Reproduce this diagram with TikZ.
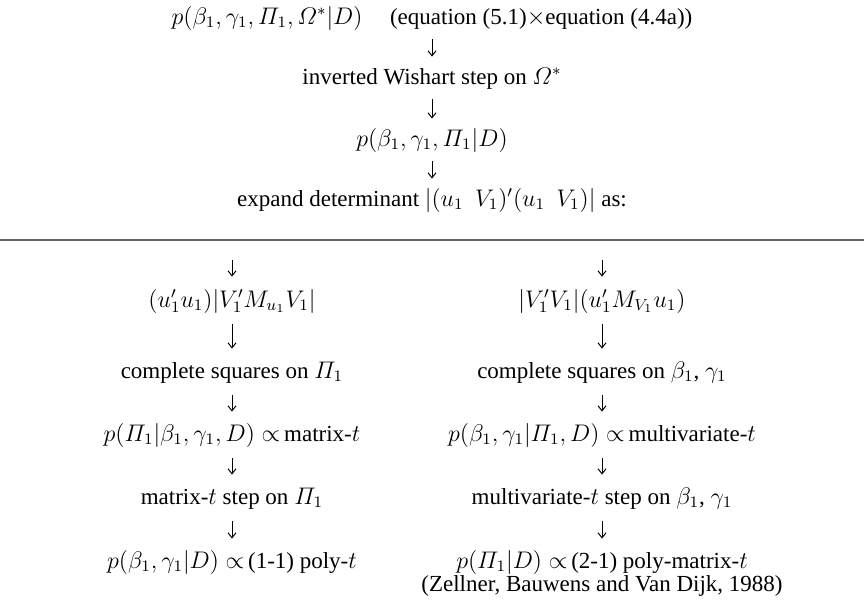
\documentclass[tikz,border=0pt]{standalone}
\usepackage{amsmath}
\usepackage{fontspec}
\setmainfont{Liberation Serif}
\usetikzlibrary{arrows.meta}
\begin{document}
\begin{tikzpicture}[x=0.5pt,y=-0.5pt,
  txt/.style={inner sep=0pt,text height=9pt,text depth=3pt,font=\fontsize{11.5}{14}\selectfont},
  arr/.style={-{Straight Barb[length=2.5pt,width=4pt]},line width=0.5pt,shorten <=4.5pt,shorten >=4.5pt},
  arrl/.style={arr,shorten <=5.5pt,shorten >=5.5pt},
  rule/.style={line width=0.8pt,draw=black!60}]
\useasboundingbox (0,0) rectangle (864,600);
% top column
\node[txt] (t1) at (432,18) {$p(\beta_1,\gamma_1,\varPi_1,\varOmega^*|D)$\hspace{1.2em}(equation (5.1)$\times$equation (4.4a))};
\node[txt] (t2) at (432,78) {inverted Wishart step on $\varOmega^*$};
\node[txt] (t3) at (432,140) {$p(\beta_1,\gamma_1,\varPi_1|D)$};
\node[txt] (t4) at (432,200) {expand determinant $|(u_1\ \ V_1)'(u_1\ \ V_1)|$ as:};
\draw[arr] (t1) -- (t2);
\draw[arr] (t2) -- (t3);
\draw[arr] (t3) -- (t4);
% rule
\coordinate (rl) at (0,240);
\coordinate (rr) at (864,240);
\draw[rule] (rl) -- (rr);
\coordinate (la) at (232,240);
\coordinate (ra) at (602,240);
% left column
\node[txt] (l1) at (232,301) {$(u_1'u_1)|V_1'M_{u_1}V_1|$};
\node[txt] (l2) at (232,372) {complete squares on $\varPi_1$};
\node[txt] (l3) at (232,435) {$p(\varPi_1|\beta_1,\gamma_1,D)\propto$\,matrix-$t$};
\node[txt] (l4) at (232,498) {matrix-$t$ step on $\varPi_1$};
\node[txt] (l5) at (232,562) {$p(\beta_1,\gamma_1|D)\propto$\,(1-1) poly-$t$};
% right column
\node[txt] (r1) at (602,301) {$|V_1'V_1|(u_1'M_{V_1}u_1)$};
\node[txt] (r2) at (602,372) {complete squares on $\beta_1$, $\gamma_1$};
\node[txt] (r3) at (602,435) {$p(\beta_1,\gamma_1|\varPi_1,D)\propto$\,multivariate-$t$};
\node[txt] (r4) at (602,498) {multivariate-$t$ step on $\beta_1$, $\gamma_1$};
\node[txt] (r5) at (602,562) {$p(\varPi_1|D)\propto$\,(2-1) poly-matrix-$t$};
\node[txt] (r6) at (602,585) {(Zellner, Bauwens and Van Dijk, 1988)};
% arrows
\draw[arr,shorten <=10pt,shorten >=6pt] (la) -- (l1);
\draw[arr,shorten <=10pt,shorten >=6pt] (ra) -- (r1);
\draw[arrl] (l1) -- (l2);
\draw[arrl] (l2) -- (l3);
\draw[arrl] (l3) -- (l4);
\draw[arrl] (l4) -- (l5);
\draw[arrl] (r1) -- (r2);
\draw[arrl] (r2) -- (r3);
\draw[arrl] (r3) -- (r4);
\draw[arrl] (r4) -- (r5);
\end{tikzpicture}
\end{document}
